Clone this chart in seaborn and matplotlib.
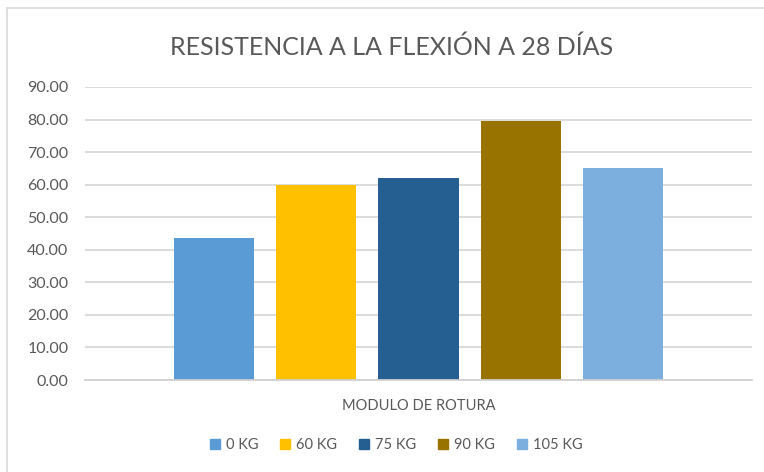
import matplotlib
matplotlib.use("Agg")
import matplotlib.pyplot as plt
import matplotlib.patches as mpatches
import seaborn as sns
import pandas as pd

categories = ["MODULO DE ROTURA"]
series = ["0 KG", "60 KG", "75 KG", "90 KG", "105 KG"]
values = [43.6, 59.9, 62.1, 79.6, 65.2]
colors = ["#5B9BD5", "#FFC000", "#255E91", "#997300", "#7CAFDD"]
yticks = [0, 10, 20, 30, 40, 50, 60, 70, 80, 90]

df = pd.DataFrame({"cat": categories * len(series), "serie": series, "val": values})

sns.set_theme(style="white")
plt.rcParams["font.family"] = ["Lato", "DejaVu Sans"]

fig = plt.figure(figsize=(7.64, 4.72), dpi=100)
fig.patches.append(mpatches.Rectangle((7 / 764, -0.1), 1.2, 1 - 8 / 472 + 0.1,
                                      transform=fig.transFigure, fill=False,
                                      edgecolor="#d9d9d9", linewidth=1.2))
ax = fig.add_axes([85 / 764, 92 / 472, 667 / 764, 293 / 472])

sns.barplot(data=df, x="cat", y="val", hue="serie", hue_order=series,
            palette=colors, width=0.765, gap=0.216, saturation=1,
            ax=ax, legend=False, edgecolor="none")

ax.set_xlim(-0.5, 0.5)
ax.set_ylim(0, 90)
ax.set_yticks(yticks)
ax.set_yticklabels([f"{v:.2f}" for v in yticks])
ax.yaxis.grid(True, color="#d9d9d9", linewidth=1.3)
ax.set_axisbelow(True)
for s in ["top", "right", "left"]:
    ax.spines[s].set_visible(False)
ax.spines["bottom"].set_color("#d0d0d0")
ax.spines["bottom"].set_linewidth(1.3)
ax.tick_params(axis="y", length=0, pad=12, labelsize=11.5, labelcolor="#595959")
ax.tick_params(axis="x", length=0, pad=14, labelsize=10.5, labelcolor="#595959")
ax.set_xlabel("")
ax.set_ylabel("")

fig.text(392 / 764, 1 - 47 / 472, "RESISTENCIA A LA FLEXIÓN A 28 DÍAS", ha="center", va="center",
         fontsize=18, color="#595959")

handles = [mpatches.Patch(color=c, label=s) for c, s in zip(colors, series)]
fig.legend(handles=handles, loc="center", bbox_to_anchor=(396 / 764, 1 - 445 / 472),
           ncol=5, frameon=False, fontsize=10.5, labelcolor="#595959",
           handlelength=0.7, handleheight=0.7, handletextpad=0.4, columnspacing=1.5)

fig.savefig("out.png", dpi=100)
